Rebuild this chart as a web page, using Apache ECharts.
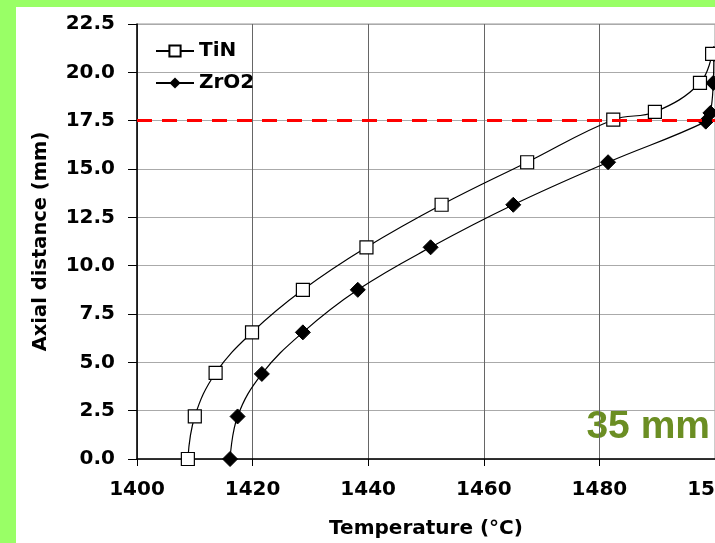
<!DOCTYPE html>
<html>
    <head>
        <meta charset="utf-8">
        <script src="https://cdn.jsdelivr.net/npm/echarts@6/dist/echarts.min.js"></script>
        <style>
            html, body { margin: 0; padding: 0; background: #99ff66; }
            #main { width: 715px; height: 543px; }
        </style>
    </head>
    <body>
        <div id="main"></div>

        <script>
            // Temperature (°C) / axial distance (mm)
            var seriesNames = ['TiN', 'ZrO2'];
            var tinTemp = [1408.8, 1410.0, 1413.6, 1419.9, 1428.7, 1439.7, 1452.7, 1467.5, 1482.4, 1489.6, 1497.4, 1499.5];
            var tinDist = [0, 2.2, 4.45, 6.55, 8.75, 10.95, 13.15, 15.35, 17.55, 17.95, 19.45, 20.95];
            var zro2Temp = [1416.1, 1417.4, 1421.6, 1428.7, 1438.2, 1450.8, 1465.1, 1481.5, 1498.4, 1499.2, 1499.7, 1499.8];
            var zro2Dist = [0, 2.2, 4.4, 6.55, 8.75, 10.95, 13.15, 15.35, 17.45, 17.9, 19.45, 20.95];
            var limitDist = 17.5;
            var caseLabel = '35 mm';

            var chart = echarts.init(document.getElementById('main'));

            function pairs(xs, ys) {
                return xs.map(function (x, i) { return [x, ys[i]]; });
            }

            var labelFont = {
                color: '#000',
                fontFamily: 'DejaVu Sans',
                fontWeight: 'bold',
                fontSize: 20
            };

            chart.setOption({
                animation: false,
                backgroundColor: '#99ff66',
                graphic: [
                    {
                        type: 'rect',
                        z: -100,
                        shape: {x: 16, y: 7, width: 699, height: 536},
                        style: {fill: '#fff'}
                    },
                    {
                        type: 'text',
                        right: 5,
                        top: 408,
                        style: {
                            text: caseLabel,
                            fill: '#6b8e23',
                            font: 'bold 39px "Liberation Sans"'
                        }
                    }
                ],
                grid: {
                    left: 137,
                    right: 0,
                    top: 24,
                    bottom: 84,
                    outerBoundsMode: 'none',
                    containLabel: false,
                    show: true,
                    borderColor: '#999',
                    borderWidth: 1
                },
                legend: {
                    orient: 'vertical',
                    left: 150,
                    top: 36,
                    itemWidth: 38,
                    itemHeight: 14,
                    itemGap: 12,
                    data: seriesNames,
                    textStyle: {
                        color: '#000',
                        fontFamily: 'DejaVu Sans',
                        fontWeight: 'bold',
                        fontSize: 20
                    }
                },
                xAxis: {
                    type: 'value',
                    min: 1400,
                    max: 1500,
                    interval: 20,
                    name: 'Temperature (°C)',
                    nameLocation: 'middle',
                    nameGap: 60,
                    nameTextStyle: {
                        color: '#000',
                        fontFamily: 'DejaVu Sans',
                        fontWeight: 'bold',
                        fontSize: 20
                    },
                    axisLine: {lineStyle: {color: '#000', width: 1.5}},
                    axisTick: {length: 7, lineStyle: {color: '#000'}},
                    axisLabel: Object.assign({
                        margin: 21,
                        formatter: function (v) { return String(v); }
                    }, labelFont),
                    splitLine: {lineStyle: {color: '#666', width: 1}}
                },
                yAxis: {
                    type: 'value',
                    min: 0,
                    max: 22.5,
                    interval: 2.5,
                    name: 'Axial distance (mm)',
                    nameLocation: 'middle',
                    nameGap: 86,
                    nameTextStyle: {
                        color: '#000',
                        fontFamily: 'DejaVu Sans',
                        fontWeight: 'bold',
                        fontSize: 19.5
                    },
                    axisLine: {show: true, lineStyle: {color: '#000', width: 1.5}},
                    axisTick: {show: true, length: 9, lineStyle: {color: '#000'}},
                    axisLabel: Object.assign({
                        margin: 22,
                        formatter: function (v) { return v.toFixed(1); }
                    }, labelFont),
                    splitLine: {lineStyle: {color: '#aaa', width: 1}}
                },
                series: [
                    {
                        name: seriesNames[0],
                        type: 'line',
                        smooth: 0.4,
                        symbol: 'rect',
                        symbolSize: 13,
                        showAllSymbol: true,
                        lineStyle: {color: '#000', width: 1.2},
                        itemStyle: {color: '#fff', borderColor: '#000', borderWidth: 1.2},
                        data: pairs(tinTemp, tinDist),
                        markLine: {
                            silent: true,
                            symbol: 'none',
                            label: {show: false},
                            lineStyle: {color: '#ff0000', type: [15, 10], width: 3},
                            data: [{yAxis: limitDist}]
                        },
                        z: 3
                    },
                    {
                        name: seriesNames[1],
                        type: 'line',
                        smooth: 0.4,
                        symbol: 'diamond',
                        symbolSize: 15,
                        showAllSymbol: true,
                        lineStyle: {color: '#000', width: 1.2},
                        itemStyle: {color: '#000', borderColor: '#000'},
                        data: pairs(zro2Temp, zro2Dist),
                        z: 2
                    }
                ]
            });
        </script>
    </body>
</html>
